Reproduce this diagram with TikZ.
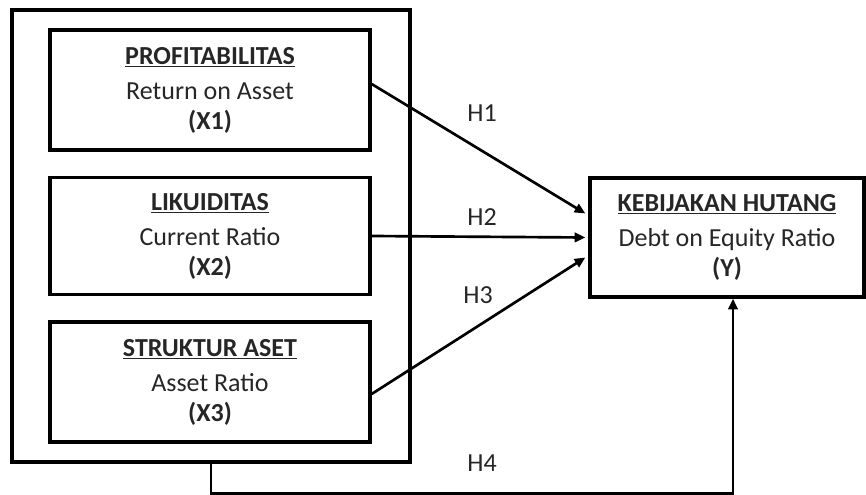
\documentclass[tikz,border=0pt]{standalone}
\usepackage{fontspec}
\setmainfont{Carlito}
\usetikzlibrary{arrows.meta,calc}
\begin{document}
\begin{tikzpicture}[x=0.75pt,y=-0.75pt,
  frame/.style={draw,line width=2.5pt,inner sep=0pt},
  box/.style={frame,align=center,font=\fontsize{19.5}{22.5}\selectfont,text=black!85},
  conn/.style={line width=2pt,-{Triangle[length=8pt,width=7pt]}},
  lab/.style={font=\fontsize{19.5}{22}\selectfont,text=black!85}]
\useasboundingbox (0,0) rectangle (866,495);
\node[frame,minimum width=298.5pt,minimum height=339pt] (outer) at (211,236) {};
\node[box,minimum width=240pt,minimum height=90pt] (x1) at (210,90)
  {\textbf{\underline{PROFITABILITAS}}\\[3.75pt]Return on Asset\\\textbf{(X1)}};
\node[box,minimum width=240pt,minimum height=87.75pt] (x2) at (210,236)
  {\textbf{\underline{LIKUIDITAS}}\\[3.75pt]Current Ratio\\\textbf{(X2)}};
\node[box,minimum width=240pt,minimum height=90pt] (x3) at (210,382)
  {\textbf{\underline{STRUKTUR ASET}}\\[3.75pt]Asset Ratio\\\textbf{(X3)}};
\node[box,minimum width=205.5pt,minimum height=89.25pt] (y) at (727,237.5)
  {\textbf{\underline{KEBIJAKAN HUTANG}}\\[3.75pt]Debt on Equity Ratio\\\textbf{(Y)}};
\draw[conn] ($(x1.east)+(0,-6)$) -- ($(y.west)+(-3,-24)$);
\draw[conn] (x2.east) -- ($(y.west)+(-3,0)$);
\draw[conn] ($(x3.east)+(0,12)$) -- ($(y.west)+(-3,20)$);
\coordinate (yb) at ($(y.south)+(6,0)$);
\draw[conn] (outer.south) -- ++(0,30) -| (yb);
\node[lab] (h1) at (482,113) {H1};
\node[lab] (h2) at (482,217) {H2};
\node[lab] (h3) at (478,295) {H3};
\node[lab] (h4) at (482,463) {H4};
\end{tikzpicture}
\end{document}
